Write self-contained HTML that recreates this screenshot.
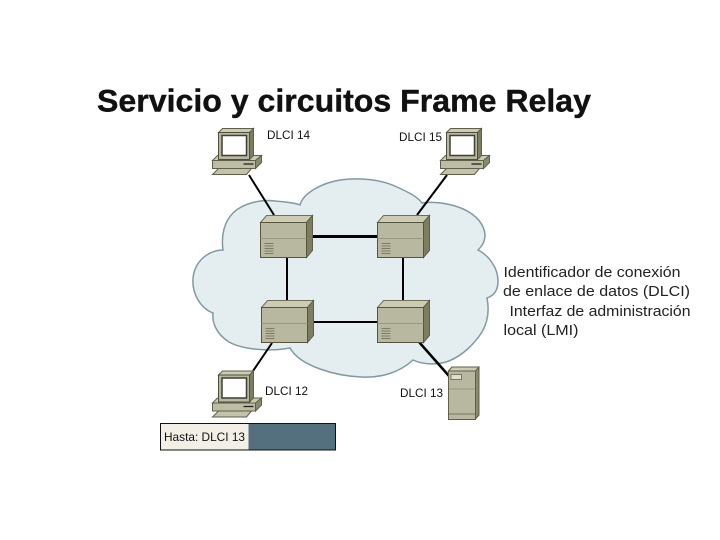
<!DOCTYPE html>
<html><head><meta charset="utf-8"><style>
html,body{margin:0;padding:0;background:#fff}
svg{display:block}
text{font-family:"Liberation Sans",sans-serif;fill:#111}
</style></head><body>
<svg width="720" height="540" viewBox="0 0 720 540" xmlns="http://www.w3.org/2000/svg">
<defs>
<g id="sw">
<path d="M0 7L6 0H52L46 7Z" fill="#cdcbb3" stroke="#6f6f58" stroke-width="1"/>
<path d="M46 7L52 0V35L46 42Z" fill="#7d7d62" stroke="#5f5f4a" stroke-width="1"/>
<rect x="0" y="7" width="46" height="35" fill="#b8b7a0" stroke="#55553f" stroke-width="1"/>
<path d="M0 23H46" stroke="#98977f" stroke-width="1"/>
<path d="M4 28H13M4 30.500H13M4 33H13M4 35.500H13M4 38H13" stroke="#7c7c66" stroke-width="1"/>
</g>
<g id="pc">
<path d="M0 32L5 27H49L43 32Z" fill="#cdcbb3" stroke="#5f5f4a"/>
<path d="M43 32L49 27V34L43 40Z" fill="#8a8a6e" stroke="#5f5f4a"/>
<rect x="0" y="32" width="43" height="8" fill="#bdbca4" stroke="#5f5f4a"/>
<path d="M0 46L6 40H39L34 46Z" fill="#c3c2aa" stroke="#5f5f4a"/>
<path d="M31 35.500H41" stroke="#222" stroke-width="1.300"/>
<path d="M6 4L10 0H41L37 4Z" fill="#cdcbb3" stroke="#5f5f4a"/>
<path d="M37 4L41 0V27L37 31Z" fill="#7d7d62" stroke="#5f5f4a"/>
<rect x="6" y="4" width="31" height="27" fill="#b8b7a0" stroke="#4f4f3c"/>
<rect x="9.500" y="7" width="24.500" height="20" fill="#fefefe" stroke="#3f3f36" stroke-width="1.500"/>
</g>
</defs>
<rect width="720" height="540" fill="#fff"/>
<text x="97" y="111.500" font-size="31.500" font-weight="bold" textLength="494" lengthAdjust="spacingAndGlyphs" style="stroke:#111;stroke-width:.4">Servicio y circuitos Frame Relay</text>

<path d="M300 205C303 193 322 183 340 180C362 177 382 180 397 187C408 192 418 197 422 203C436 201 458 204 472 214C483 222 487 233 484 241C483 245 480 248 478 250C488 255 498 267 498 281C498 291 493 296 487 298C489 308 489 320 482 332C473 346 461 356 449 361C438 365 424 365 413 360C400 372 382 378 362 377C335 376 300 366 290 348C275 351 245 351 229 342C216 334 212 322 213 313C200 308 192 293 193 279C194 262 208 250 223 250C221 236 224 222 233 213C243 203 262 199 275 201C287 202 296 203 300 205Z" fill="#e4eef0" stroke="#7f9aa2" stroke-width="1.500"/>

<g stroke="#000" fill="none">
<path d="M306 236.500H377" stroke-width="3"/>
<path d="M287 257V301" stroke-width="2"/>
<path d="M403 257V301" stroke-width="2"/>
<path d="M307 322H377" stroke-width="2"/>
<path d="M249 175L274 215" stroke-width="2"/>
<path d="M447 175L417 215" stroke-width="2"/>
<path d="M272 343L253 371" stroke-width="2"/>
<path d="M419 342L449 376" stroke-width="2.500"/>
</g>

<use href="#sw" x="260.500" y="215.500"/>
<use href="#sw" x="377.500" y="215.500"/>
<use href="#sw" x="261.500" y="300.500"/>
<use href="#sw" x="377.500" y="300.500"/>

<use href="#pc" x="212.500" y="128.500"/>
<use href="#pc" x="440.500" y="128.500"/>
<use href="#pc" x="212.500" y="371"/>

<g stroke="#5f5f4a">
<path d="M448.500 371L452 367H479V415L475.500 419Z" fill="#8a8a6e"/>
<path d="M448.500 371L452 367H479L475.500 371Z" fill="#cdcbb3"/>
<rect x="448.500" y="371" width="27" height="48.500" fill="#b8b7a0"/>
<path d="M449 389H475" stroke="#98977f"/>
<path d="M449 414H475" stroke="#777763"/>
<rect x="451" y="374.500" width="10.500" height="5" fill="#e0dfcb" stroke="#777763"/>
</g>

<g font-size="12">
<text x="267" y="139" textLength="43" lengthAdjust="spacingAndGlyphs">DLCI 14</text>
<text x="399" y="141" textLength="43" lengthAdjust="spacingAndGlyphs">DLCI 15</text>
<text x="265" y="395" textLength="43" lengthAdjust="spacingAndGlyphs">DLCI 12</text>
<text x="400" y="397" textLength="43" lengthAdjust="spacingAndGlyphs">DLCI 13</text>
</g>

<rect x="160.500" y="423.500" width="175" height="26.500" fill="#54707f" stroke="#111" stroke-width="1"/>
<rect x="161" y="424" width="87.500" height="25.500" fill="#f2efe6"/>
<text x="164" y="441" font-size="12" textLength="81" lengthAdjust="spacingAndGlyphs">Hasta: DLCI 13</text>

<g font-size="14.500">
<text x="503.500" y="277" textLength="177" lengthAdjust="spacingAndGlyphs" style="fill:#222">Identificador de conexión</text>
<text x="503" y="296" textLength="187" lengthAdjust="spacingAndGlyphs" style="fill:#222">de enlace de datos (DLCI)</text>
<text x="509.500" y="316" textLength="181" lengthAdjust="spacingAndGlyphs" style="fill:#222">Interfaz de administración</text>
<text x="503.500" y="335" textLength="75" lengthAdjust="spacingAndGlyphs" style="fill:#222">local (LMI)</text>
</g>
</svg>
</body></html>
